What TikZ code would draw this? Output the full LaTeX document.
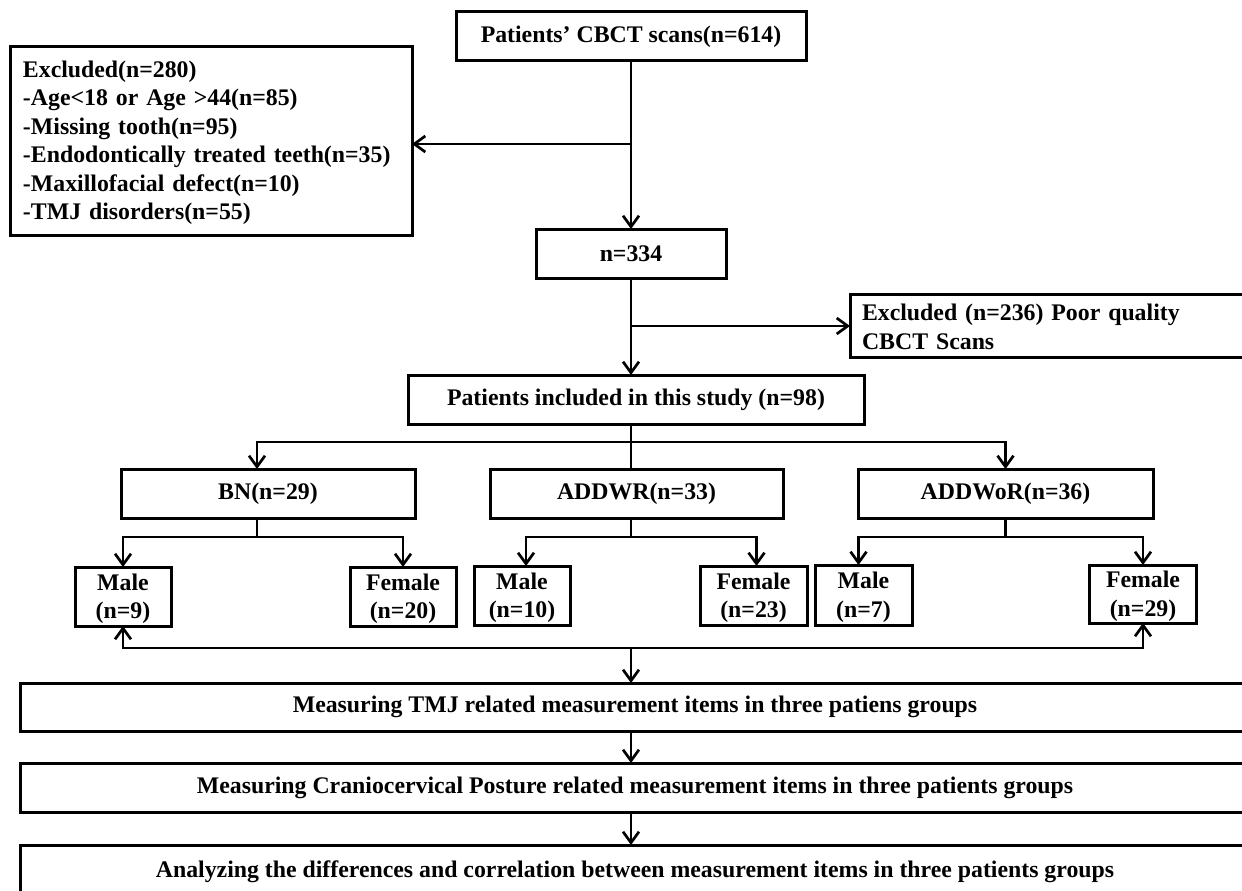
\documentclass[tikz,border=0pt]{standalone}
\usepackage{fontspec}
\setmainfont{Liberation Serif}
\usetikzlibrary{arrows.meta}
\newcommand\fsz{\fontsize{23.8}{28.5}\selectfont}
\tikzset{
  box/.style={draw, line width=3pt, inner sep=0pt, outer sep=0pt, font=\bfseries\fsz, align=center},
  lbox/.style={box, align=left},
  ln/.style={line width=2.7pt},
  arr/.style={ln, -{Straight Barb[length=11pt,width=16pt]}}
}
\begin{document}
\begin{tikzpicture}[x=1pt,y=-1pt]
\useasboundingbox (0,0) rectangle (1242,891);
\clip (0,0) rectangle (1242,891);
\fill[white] (0,0) rectangle (1242,891);
% nodes
\node[box, minimum width=350pt, minimum height=49pt] (top) at (631,36.5) {Patients’ CBCT scans(n=614)};
\node[lbox, minimum height=188pt, text width=376pt, inner xsep=13pt] (ex1) at (211,141)
  {\rule{0pt}{20pt}Excluded(n=280)\\-Age<18 or Age >44(n=85)\\-Missing tooth(n=95)\\-Endodontically treated teeth(n=35)\\-Maxillofacial defect(n=10)\\-TMJ disorders(n=55)};
\node[box, minimum width=190pt, minimum height=49pt] (n334) at (631,253.5) {n=334};
\node[lbox, minimum height=63pt, text width=388pt, inner xsep=12pt] (ex2) at (1056,325.5)
  {\rule{0pt}{19pt}Excluded (n=236) Poor quality\\CBCT Scans};
\node[box, minimum width=456pt, minimum height=49pt] (incl) at (636,399.5) {Patients included in this study (n=98)};
\node[box, minimum width=294pt, minimum height=49pt] (bn) at (268,493.5) {BN(n=29)};
\node[box, minimum width=293pt, minimum height=49pt] (addwr) at (636.5,493.5) {ADDWR(n=33)};
\node[box, minimum width=295pt, minimum height=49pt] (addwor) at (1005.5,493.5) {ADDWoR(n=36)};
\node[box, minimum width=96pt, minimum height=59pt] (m9) at (123,596.5) {\rule{0pt}{21pt}Male\\(n=9)};
\node[box, minimum width=106pt, minimum height=59pt] (f20) at (403,596.5) {\rule{0pt}{21pt}Female\\(n=20)};
\node[box, minimum width=96pt, minimum height=59pt] (m10) at (522,595.5) {\rule{0pt}{21pt}Male\\(n=10)};
\node[box, minimum width=107pt, minimum height=59pt] (f23) at (753.5,595.5) {\rule{0pt}{21pt}Female\\(n=23)};
\node[box, minimum width=97pt, minimum height=60pt] (m7) at (863.5,595) {\rule{0pt}{21pt}Male\\(n=7)};
\node[box, minimum width=107pt, minimum height=58pt] (f29) at (1143,594) {\rule{0pt}{21pt}Female\\(n=29)};
\node[box, minimum width=1230pt, minimum height=48pt] (meas1) at (635,707) {Measuring TMJ related measurement items in three patiens groups};
\node[box, minimum width=1230pt, minimum height=49pt] (meas2) at (635,787.5) {Measuring Craniocervical Posture related measurement items in three patients groups};
\node[box, minimum width=1230pt, minimum height=54pt] (meas3) at (635,872) {Analyzing the differences and correlation between measurement items in three patients groups};
% connectors
\draw[arr] (top.south) -- (n334.north);
\coordinate (j1) at (631,144);
\draw[arr] (j1) -- (ex1.east |- j1);
\draw[arr] (n334.south) -- (n334.south |- incl.north);
\coordinate (j2) at (631,326);
\draw[arr] (j2) -- (ex2.west |- j2);
\draw[ln] (n334 |- incl.south) -- (n334 |- addwr.north);
\coordinate (b1) at (631,442);
\draw[arr] (b1) -| ([xshift=-11pt]bn.north);
\draw[arr] (b1) -| (addwor.north);
% sub branches
\draw[ln] ([xshift=-11pt]bn.south) -- ++(0,19) coordinate (s1);
\draw[arr] (s1) -| (m9.north);
\draw[arr] (s1) -| (f20.north);
\draw[ln] (n334 |- addwr.south) -- ++(0,19) coordinate (s2);
\draw[arr] (s2) -| ([xshift=4pt]m10.north);
\draw[arr] (s2) -| ([xshift=3pt]f23.north);
\draw[ln] (addwor.south) -- ++(0,19) coordinate (s3);
\draw[arr] (s3) -| ([xshift=-5pt]m7.north);
\draw[arr] (s3) -| (f29.north);
% collector
\coordinate (c1) at (631,648);
\draw[arr] (c1) -| (m9.south);
\draw[arr] (c1) -| (f29.south);
\draw[arr] (c1) -- (n334 |- meas1.north);
\draw[arr] (n334 |- meas1.south) -- (n334 |- meas2.north);
\draw[arr] (n334 |- meas2.south) -- (n334 |- meas3.north);
\end{tikzpicture}
\end{document}
